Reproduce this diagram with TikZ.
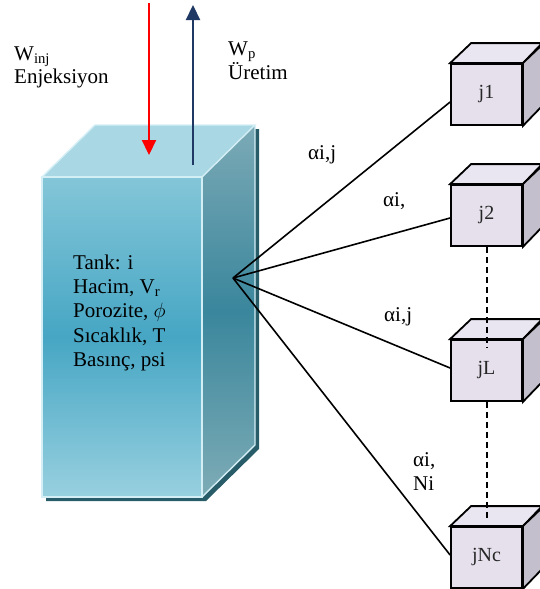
\documentclass[tikz,border=0pt]{standalone}
\usepackage{fontspec}
\newfontfamily\tms{Liberation Serif}
\usetikzlibrary{arrows.meta}
\definecolor{topface}{RGB}{169,216,228}
\definecolor{fronttop}{RGB}{132,198,216}
\definecolor{frontmid}{RGB}{70,166,196}
\definecolor{frontbot}{RGB}{152,208,223}
\definecolor{sidetop}{RGB}{124,170,182}
\definecolor{sidemid}{RGB}{58,134,156}
\definecolor{sidebot}{RGB}{126,172,182}
\definecolor{shadowc}{RGB}{40,92,104}
\definecolor{edgec}{RGB}{212,238,245}
\definecolor{cubefront}{RGB}{229,224,236}
\definecolor{cubetop}{RGB}{234,230,241}
\definecolor{cubeside}{RGB}{196,191,204}
\definecolor{navy}{RGB}{31,56,100}
\definecolor{redarrow}{RGB}{255,0,0}
\tikzset{
  txt/.style={font=\tms\fontsize{21}{25}\selectfont, inner sep=0pt, anchor=base west},
  cubebox/.style={draw=black, line width=1.8pt, fill=cubefront, minimum width=71pt, minimum height=61pt, inner sep=0pt, font=\tms\fontsize{20}{24}\selectfont, text=black!85},
  cubeedge/.style={draw=black, line width=1.8pt, line join=miter},
  tankedge/.style={draw=edgec, line width=1.4pt, line join=miter},
  link/.style={draw=black, line width=1.6pt},
  dashlink/.style={draw=black, line width=2pt, dash pattern=on 6pt off 4pt},
  flowarrow/.style={line width=2.2pt, -{Triangle[length=15pt,width=14pt]}}
}
\newcommand{\mkcube}[4]{%
  \node[cubebox] (#1) at (#2,#3) {#4};
  \draw[cubeedge, fill=cubetop] (#1.north west) -- ++(21,-20) -- ++(71,0) -- (#1.north east) -- cycle;
  \draw[cubeedge, fill=cubeside] (#1.north east) -- ++(21,-20) -- ++(0,61) -- (#1.south east) -- cycle;
}
\begin{document}
\begin{tikzpicture}[x=1pt,y=-1pt]
\useasboundingbox (0,0) rectangle (540,589);
\clip (0,0) rectangle (540,589);
% tank corners
\coordinate (ftl) at (42,177);
\coordinate (ftr) at (202,177);
\coordinate (fbr) at (202,497);
\coordinate (fbl) at (42,497);
\coordinate (btl) at (95,125);
\coordinate (btr) at (255,125);
\coordinate (bbr) at (255,445);
% shadow
\fill[shadowc] ([shift={(4,4)}]ftl) -- ([shift={(4,4)}]btl) -- ([shift={(4,4)}]btr) -- ([shift={(4,4)}]bbr) -- ([shift={(4,4)}]fbr) -- ([shift={(4,4)}]fbl) -- cycle;
% front face
\shade[top color=fronttop, bottom color=frontbot, middle color=frontmid] (ftl) rectangle (fbr);
% side face
\shade[top color=sidetop, bottom color=sidebot, middle color=sidemid] (ftr) -- (btr) -- (bbr) -- (fbr) -- cycle;
% top face
\fill[topface] (ftl) -- (btl) -- (btr) -- (ftr) -- cycle;
% edges
\draw[tankedge] (ftl) -- (btl) -- (btr) -- (ftr) -- cycle;
\draw[tankedge] (btr) -- (bbr) -- (fbr);
\draw[tankedge] (ftl) rectangle (fbr);
% flow arrows
\coordinate (injS) at (149,3);
\coordinate (injE) at (149,155);
\coordinate (prodS) at (193,165);
\coordinate (prodE) at (193,5);
\draw[flowarrow, draw=redarrow, fill=redarrow] (injS) -- (injE);
\draw[flowarrow, draw=navy, fill=navy] (prodS) -- (prodE);
% flow labels
\node[txt] (winj) at (14,60) {W\textsubscript{inj}};
\node[txt] (enj) at (14,83) {Enjeksiyon};
\node[txt] (wp) at (228,55) {W\textsubscript{p}};
\node[txt] (uret) at (228,79) {Üretim};
% tank text
\node[txt] (t1) at (73,269) {Tank: i};
\node[txt] (t2) at (73,293.3) {Hacim, V\textsubscript{r}};
\node[txt] (t3) at (73,317.6) {Porozite, $\phi$};
\node[txt] (t4) at (73,342) {Sıcaklık, T};
\node[txt] (t5) at (73,366) {Basınç, psi};
% cubes
\mkcube{j1}{486.5}{94.5}{j1}
\mkcube{j2}{486.5}{215.5}{j2}
\mkcube{jL}{486.5}{370.5}{jL}
\mkcube{jNc}{486.5}{557.5}{jNc}
% links
\coordinate (hub) at (233,278);
\draw[link] (hub) -- ([yshift=-7.5pt]j1.west);
\draw[link] (hub) -- ([yshift=-2.5pt]j2.west);
\draw[link] (hub) -- ([yshift=2.5pt]jL.west);
\draw[link] (hub) -- ([yshift=2.5pt]jNc.west);
\draw[dashlink] ([xshift=0.5pt]j2.south) -- ([xshift=0.5pt,yshift=-8pt]jL.north);
\draw[dashlink] ([xshift=0.5pt]jL.south) -- ([xshift=0.5pt,yshift=7pt]jNc.north);
% link labels
\node[txt] (a1) at (308,159) {αi,j};
\node[txt] (a2) at (383,206) {αi,};
\node[txt] (a3) at (384,321) {αi,j};
\node[txt] (a4) at (413,466) {αi,};
\node[txt] (a5) at (413,490) {Ni};
\end{tikzpicture}
\end{document}
